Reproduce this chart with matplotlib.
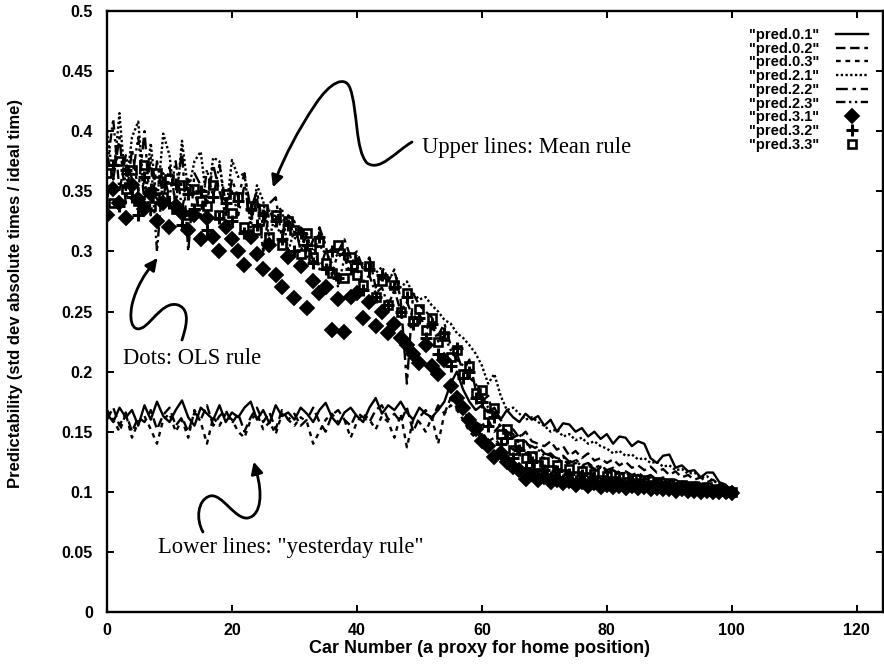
import numpy as np
import matplotlib
matplotlib.use("Agg")
import matplotlib.pyplot as plt
from matplotlib.path import Path
from matplotlib.patches import PathPatch, FancyArrowPatch

# ---------------- data ----------------
car = list(range(0, 101))

pred_0_1 = [.165,.158,.170,.162,.168,.155,.172,.160,.175,.163,
            .158,.168,.176,.162,.155,.170,.165,.160,.172,.158,
            .166,.162,.170,.175,.160,.168,.157,.172,.163,.166,
            .160,.170,.165,.158,.168,.174,.162,.156,.166,.170,
            .163,.158,.170,.178,.165,.172,.168,.175,.166,.160,
            .170,.165,.162,.168,.175,.190,.200,.185,.175,.168,
            .172,.166,.170,.160,.168,.162,.158,.165,.160,.163,
            .155,.160,.150,.157,.156,.150,.153,.146,.150,.144,
            .148,.140,.146,.145,.138,.142,.140,.128,.124,.130,
            .131,.120,.122,.117,.118,.112,.116,.116,.108,.106,
            .100]
pred_0_2 = [.160,.170,.155,.166,.150,.162,.158,.168,.152,.164,
            .170,.155,.162,.150,.166,.160,.172,.155,.163,.168,
            .157,.165,.150,.162,.170,.158,.166,.152,.168,.160,
            .165,.155,.160,.170,.158,.150,.164,.168,.160,.155,
            .166,.162,.158,.168,.172,.160,.165,.158,.170,.150,
            .162,.168,.160,.172,.165,.178,.170,.168,.160,.158,
            .155,.160,.150,.156,.148,.152,.145,.150,.142,.140,
            .138,.142,.135,.138,.130,.134,.128,.132,.126,.128,
            .124,.127,.122,.125,.120,.122,.118,.121,.116,.119,
            .114,.117,.112,.114,.110,.112,.108,.110,.106,.104,
            .101]
pred_0_3 = [.168,.160,.150,.165,.145,.158,.163,.152,.140,.160,
            .165,.150,.160,.145,.168,.158,.140,.162,.155,.165,
            .160,.150,.145,.160,.165,.152,.158,.148,.165,.160,
            .155,.162,.158,.140,.150,.160,.165,.158,.160,.145,
            .158,.165,.160,.152,.163,.158,.145,.165,.137,.160,
            .158,.150,.162,.140,.165,.172,.168,.160,.150,.145,
            .150,.142,.145,.138,.140,.135,.138,.132,.134,.130,
            .128,.130,.125,.127,.122,.124,.120,.122,.118,.120,
            .116,.118,.114,.116,.112,.114,.110,.112,.109,.111,
            .108,.110,.106,.108,.105,.106,.104,.105,.102,.103,
            .100]
pred_2_1 = [.400,.360,.415,.350,.395,.408,.345,.390,.340,.398,
            .380,.335,.392,.350,.375,.383,.340,.378,.375,.330,
            .376,.362,.365,.320,.355,.342,.310,.333,.336,.300,
            .318,.305,.312,.300,.305,.298,.302,.295,.300,.290,
            .296,.285,.290,.282,.287,.278,.282,.270,.275,.265,
            .260,.262,.255,.250,.243,.240,.232,.228,.222,.215,
            .205,.190,.198,.180,.168,.170,.165,.160,.162,.158,
            .155,.150,.152,.146,.148,.143,.145,.140,.142,.138,
            .136,.132,.134,.130,.131,.127,.128,.124,.125,.121,
            .122,.118,.119,.115,.116,.112,.113,.109,.107,.104,
            .100]
pred_2_2 = [.380,.360,.395,.340,.385,.350,.400,.330,.375,.345,
            .370,.340,.385,.300,.365,.355,.340,.372,.350,.330,
            .360,.345,.365,.335,.350,.320,.340,.345,.310,.330,
            .325,.300,.315,.290,.320,.305,.280,.300,.310,.295,
            .300,.285,.295,.270,.280,.275,.285,.260,.190,.265,
            .255,.250,.245,.230,.240,.222,.215,.200,.210,.185,
            .175,.180,.160,.155,.150,.148,.140,.142,.135,.138,
            .132,.130,.128,.130,.125,.127,.122,.124,.120,.122,
            .118,.120,.116,.117,.114,.116,.112,.114,.110,.112,
            .109,.110,.107,.108,.106,.107,.104,.105,.102,.102,
            .100]
pred_2_3 = [.370,.410,.350,.380,.360,.395,.340,.378,.300,.365,
            .345,.375,.335,.360,.350,.330,.368,.345,.372,.340,
            .350,.330,.355,.325,.345,.300,.335,.320,.315,.330,
            .310,.320,.295,.310,.285,.300,.290,.270,.295,.280,
            .285,.275,.280,.265,.270,.255,.268,.250,.258,.245,
            .248,.235,.240,.225,.230,.218,.210,.205,.195,.190,
            .180,.170,.165,.160,.150,.145,.148,.140,.138,.135,
            .130,.132,.127,.129,.124,.126,.121,.123,.119,.121,
            .117,.118,.115,.116,.113,.114,.111,.112,.109,.110,
            .108,.109,.106,.107,.105,.105,.103,.104,.101,.101,
            .100]
pred_3_1 = [.330,.352,.340,.328,.355,.344,.335,.348,.325,.340,
            .320,.338,.332,.318,.330,.310,.328,.312,.300,.320,
            .310,.300,.289,.312,.298,.285,.305,.280,.270,.295,
            .261,.288,.253,.275,.265,.270,.235,.260,.233,.262,
            .265,.245,.258,.238,.250,.232,.240,.228,.222,.215,
            .207,.222,.205,.198,.210,.188,.178,.170,.160,.152,
            .142,.138,.129,.132,.125,.121,.118,.111,.115,.110,
            .112,.108,.110,.107,.109,.106,.108,.105,.107,.104,
            .106,.104,.105,.103,.105,.103,.104,.102,.103,.102,
            .102,.101,.102,.101,.101,.100,.101,.100,.100,.100,
            .099]
pred_3_2 = [.350,.372,.338,.368,.345,.330,.362,.352,.325,.358,
            .340,.356,.322,.348,.335,.350,.318,.345,.328,.340,
            .325,.342,.315,.335,.322,.330,.305,.325,.310,.322,
            .300,.315,.305,.290,.312,.285,.300,.278,.298,.285,
            .290,.268,.285,.262,.280,.255,.270,.250,.262,.240,
            .245,.228,.240,.215,.232,.205,.220,.195,.200,.178,
            .175,.155,.162,.140,.145,.128,.135,.120,.125,.115,
            .118,.112,.117,.110,.115,.109,.114,.108,.112,.107,
            .111,.106,.110,.105,.109,.105,.108,.104,.107,.104,
            .106,.103,.105,.102,.104,.102,.103,.101,.102,.100,
            .100]
pred_3_3 = [.365,.340,.375,.352,.368,.342,.372,.338,.365,.345,
            .360,.335,.355,.330,.352,.342,.338,.355,.330,.348,
            .332,.345,.320,.338,.318,.335,.312,.330,.305,.325,
            .318,.298,.315,.295,.308,.290,.282,.305,.278,.295,
            .280,.272,.288,.262,.275,.255,.272,.250,.265,.242,
            .252,.235,.245,.225,.230,.212,.218,.198,.205,.182,
            .185,.165,.170,.148,.152,.135,.140,.128,.130,.122,
            .125,.118,.122,.115,.119,.113,.117,.112,.115,.110,
            .113,.109,.112,.108,.111,.107,.110,.106,.108,.105,
            .107,.104,.106,.103,.105,.102,.104,.101,.102,.101,
            .100]

x_ticks = [0, 20, 40, 60, 80, 100, 120]
y_ticks = [0, 0.05, 0.1, 0.15, 0.2, 0.25, 0.3, 0.35, 0.4, 0.45, 0.5]
y_tick_labels = ["0", "0.05", "0.1", "0.15", "0.2", "0.25", "0.3", "0.35", "0.4", "0.45", "0.5"]

line_series = [
    ('"pred.0.1"', pred_0_1, '-'),
    ('"pred.0.2"', pred_0_2, (0, (4, 2))),
    ('"pred.0.3"', pred_0_3, (0, (2, 2))),
    ('"pred.2.1"', pred_2_1, (0, (1, 1))),
    ('"pred.2.2"', pred_2_2, (0, (5, 2, 1.5, 2))),
    ('"pred.2.3"', pred_2_3, (0, (4, 1.5, 1, 1.5, 1, 1.5))),
]
point_series = [
    ('"pred.3.1"', pred_3_1, 'D', 6.8, 'black', 1.3),
    ('"pred.3.2"', pred_3_2, '+', 8.0, 'black', 2.2),
    ('"pred.3.3"', pred_3_3, 's', 6.0, 'none', 1.9),
]

# ---------------- figure ----------------
W, H = 884, 667
fig = plt.figure(figsize=(W / 100, H / 100), dpi=100)
ax = fig.add_axes([107 / W, 55 / H, 776 / W, 601 / H])

sans = ['Liberation Sans', 'DejaVu Sans']
serif = ['Liberation Serif', 'DejaVu Serif']

handles = []
for lab, vals, ls in line_series:
    h, = ax.plot(car, vals, color='black', lw=1.7, linestyle=ls, label=lab)
    handles.append(h)
for lab, vals, mk, ms, fc, mew in point_series:
    h, = ax.plot(car, vals, linestyle='none', marker=mk, markersize=ms,
                 markerfacecolor=fc, markeredgecolor='black', markeredgewidth=mew,
                 label=lab)
    handles.append(h)

ax.set_xlim(0, 124.2)
ax.set_ylim(0, 0.5)
ax.set_xticks(x_ticks)
ax.set_xticklabels([str(v) for v in x_ticks])
ax.set_yticks(y_ticks)
ax.set_yticklabels(y_tick_labels)
ax.tick_params(direction='in', length=5, width=1.4, top=True, right=True,
               labelsize=11.5)
ax.tick_params(axis='y', pad=10)
ax.tick_params(axis='x', pad=8)
for t in ax.get_xticklabels() + ax.get_yticklabels():
    t.set_fontfamily(sans)
    t.set_fontweight('bold')
for s in ax.spines.values():
    s.set_linewidth(1.7)

ax.set_xlabel('Car Number (a proxy for home position)', fontsize=13,
              fontweight='bold', family=sans)
ax.set_ylabel('Predictability (std dev absolute times / ideal time)', fontsize=12,
              fontweight='bold', family=sans)
ax.xaxis.set_label_coords(0.48, -0.047)
ax.yaxis.set_label_coords(-0.108, 0.53)

leg = ax.legend(handles=handles, loc='upper right', markerfirst=False,
                frameon=False, handlelength=2.2, handletextpad=1.15,
                labelspacing=-0.02, borderpad=0, borderaxespad=0,
                bbox_to_anchor=(868 / W, (H - 28) / H), bbox_transform=fig.transFigure,
                prop={'family': sans, 'weight': 'bold', 'size': 10.5})

# ---------------- annotations ----------------
def fp(px, py):
    return (px / W, 1 - py / H)

def curvy(segs, tip_from, tip):
    verts = [fp(*segs[0])]
    codes = [Path.MOVETO]
    for i in range(1, len(segs), 3):
        verts += [fp(*segs[i]), fp(*segs[i + 1]), fp(*segs[i + 2])]
        codes += [Path.CURVE4] * 3
    patch = PathPatch(Path(verts, codes), transform=fig.transFigure,
                      facecolor='none', edgecolor='black', lw=2.0, capstyle='round')
    fig.add_artist(patch)
    arr = FancyArrowPatch(fp(*tip_from), fp(*tip), transform=fig.transFigure,
                          arrowstyle='-|>,head_length=7,head_width=3.5',
                          color='black', lw=2.0, mutation_scale=1)
    fig.add_artist(arr)

# upper arrow
curvy([(412, 142), (395, 152), (380, 172), (367, 163),
       (355, 150), (358, 110), (350, 88),
       (345, 75), (330, 82), (315, 105),
       (298, 130), (284, 158), (277, 176)],
      (277, 176), (272, 190))
# OLS arrow
curvy([(182, 340), (185, 330), (192, 310), (178, 305),
       (165, 301), (155, 318), (145, 326),
       (135, 334), (128, 325), (132, 305),
       (136, 287), (146, 272), (153, 264)],
      (153, 264), (159, 256))
# lower arrow
curvy([(203, 532), (196, 520), (197, 500), (210, 496),
       (222, 493), (235, 520), (248, 518),
       (262, 515), (262, 492), (257, 474)],
      (257, 474), (253, 459))

fig.text(*fp(422, 148), 'Upper lines: Mean rule', family=serif, fontsize=16.3,
         ha='left', va='center')
fig.text(*fp(123, 358), 'Dots: OLS rule', family=serif, fontsize=16.3,
         ha='left', va='center')
fig.text(*fp(158, 548), 'Lower lines: "yesterday rule"', family=serif, fontsize=16.3,
         ha='left', va='center')

fig.savefig('out.png', dpi=100)
